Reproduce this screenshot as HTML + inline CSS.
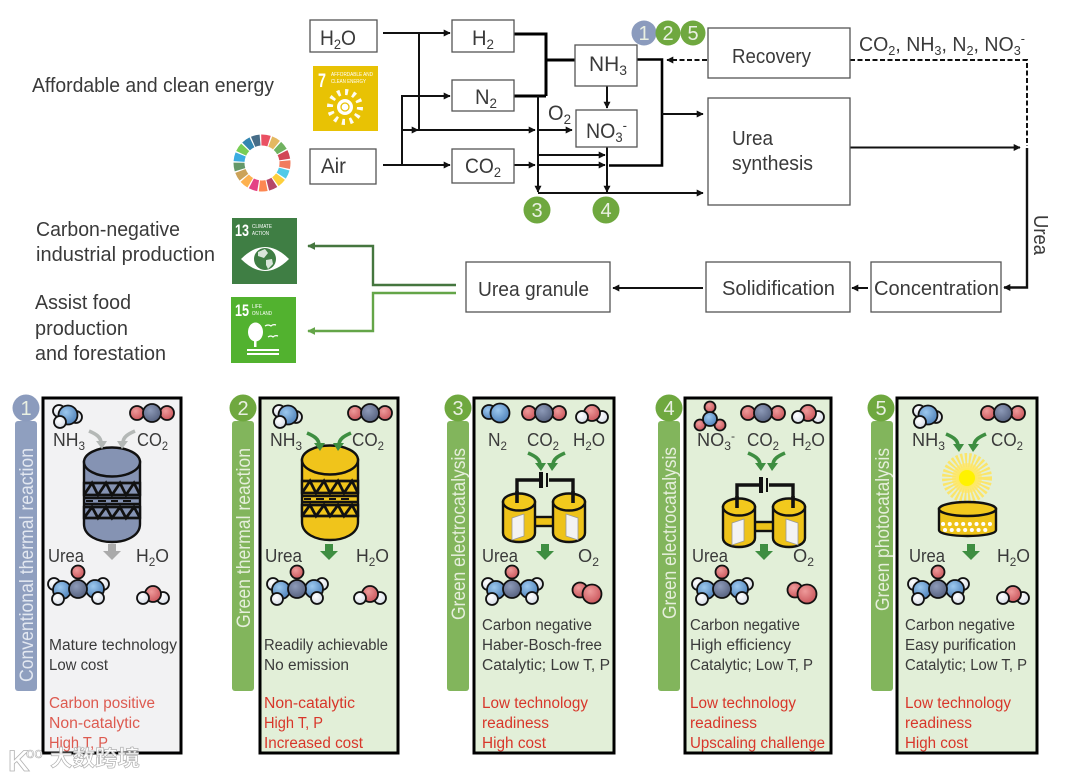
<!DOCTYPE html>
<html><head><meta charset="utf-8"><style>
html,body{margin:0;padding:0;background:#fff}
svg{display:block;filter:blur(.35px)}
text{font-family:"Liberation Sans","Noto Sans CJK SC",sans-serif;fill:#3a3a3a}
.a{font-size:20px}.b{font-size:21px}.p{font-size:18px}.s{font-size:15.5px}
.r{font-size:15.5px;fill:#d8362a}.r1{font-size:15.5px;fill:#dd5a50}
.v{font-size:19px;fill:#e6efdc}.n{font-size:20px;fill:#e9f0e2}
.l{fill:none;stroke:#111;stroke-width:2}.th{fill:none;stroke:#000;stroke-width:3}
.bx{fill:#fff;stroke:#555;stroke-width:1.3}
.pn{fill:#e2efd8;stroke:#000;stroke-width:3}
</style></head><body>
<svg width="1080" height="777" viewBox="0 0 1080 777" xmlns="http://www.w3.org/2000/svg">
<defs>
<marker id="m" viewBox="0 0 10 10" refX="9" refY="5" markerWidth="7" markerHeight="7" markerUnits="userSpaceOnUse" orient="auto"><path d="M0,0L10,5L0,10Z" fill="#111"/></marker>
<marker id="g1" viewBox="0 0 10 10" refX="9" refY="5" markerWidth="8" markerHeight="8" markerUnits="userSpaceOnUse" orient="auto"><path d="M0,0L10,5L0,10Z" fill="#45763f"/></marker>
<marker id="g2" viewBox="0 0 10 10" refX="9" refY="5" markerWidth="8" markerHeight="8" markerUnits="userSpaceOnUse" orient="auto"><path d="M0,0L10,5L0,10Z" fill="#64a548"/></marker>
<radialGradient id="rb" cx=".4" cy=".35" r=".7"><stop offset="0" stop-color="#9cc8ee"/><stop offset="1" stop-color="#4c7fb8"/></radialGradient>
<radialGradient id="rr" cx=".4" cy=".35" r=".7"><stop offset="0" stop-color="#ee9a9a"/><stop offset="1" stop-color="#c9545a"/></radialGradient>
<radialGradient id="rc" cx=".4" cy=".35" r=".7"><stop offset="0" stop-color="#8d9ab8"/><stop offset="1" stop-color="#545f7c"/></radialGradient>
<radialGradient id="rw" cx=".4" cy=".35" r=".7"><stop offset="0" stop-color="#fff"/><stop offset="1" stop-color="#d4dbe6"/></radialGradient>
<radialGradient id="sun"><stop offset="0" stop-color="#fff200"/><stop offset=".35" stop-color="#ffe94a"/><stop offset="1" stop-color="#fbe98a"/></radialGradient>
<g id="nh3" stroke="#111" stroke-width="1.8">
<circle cx="-6" cy="-5" r="6" fill="url(#rw)"/><circle cx="11" cy="1" r="6" fill="url(#rw)"/><circle cx="3" cy="-1" r="9.5" fill="url(#rb)"/><circle cx="-5" cy="6" r="6" fill="url(#rw)"/></g>
<g id="co2" stroke="#111" stroke-width="1.8">
<circle cx="-15" cy="0" r="7" fill="url(#rr)"/><circle cx="15" cy="0" r="7" fill="url(#rr)"/><circle r="9" fill="url(#rc)"/></g>
<g id="urea" stroke="#111" stroke-width="1.8">
<circle cx="0" cy="-17" r="6.5" fill="url(#rr)"/>
<circle cx="-24" cy="-5" r="6" fill="url(#rw)"/><circle cx="25" cy="-5" r="6" fill="url(#rw)"/>
<circle cx="-16" cy="1" r="9" fill="url(#rb)"/><circle cx="17" cy="0" r="9" fill="url(#rb)"/>
<circle cx="-20" cy="10" r="6" fill="url(#rw)"/><circle cx="20" cy="9" r="6" fill="url(#rw)"/>
<circle r="9" fill="url(#rc)"/></g>
<g id="h2o" stroke="#111" stroke-width="1.8">
<circle cx="10" cy="2" r="6" fill="url(#rw)"/><circle cx="0" cy="-2" r="8" fill="url(#rr)"/><circle cx="-10" cy="2" r="6" fill="url(#rw)"/></g>
<g id="o2" stroke="#111" stroke-width="1.8"><circle cx="-6" cy="-2" r="7.5" fill="url(#rr)"/><circle cx="6" cy="2" r="9.5" fill="url(#rr)"/></g>
<g id="reac" stroke="#111" stroke-width="2.4">
<path d="M-28,0V62C-28,74-14,80,0,80C14,80,28,74,28,62V0Z" fill="currentColor"/>
<ellipse rx="28" ry="14.5" fill="currentColor"/>
<rect x="-28" y="21" width="56" height="12" fill="currentColor"/>
<rect x="-28" y="45" width="56" height="11" fill="currentColor"/>
<path d="M-28,33L-20,21L-14,33L-6,21L0,33L8,21L14,33L22,21L28,33M-28,56L-20,45L-14,56L-6,45L0,56L8,45L14,56L22,45L28,56" fill="none" stroke-width="2.8"/>
<path d="M-28,21h56M-28,33h56M-28,45h56M-28,56h56M-28,36h56M-28,42h56" fill="none" stroke-width="2.6"/>
<path d="M-26,39h7M-14,39h8M-1,39h7M11,39h8" stroke-width="2"/>
</g>
<g id="al"><path d="M-13,-18C-6,-15-1,-12-1,-6" fill="none" stroke="currentColor" stroke-width="3.6"/><polygon points="-6,-8 5,-8 0,0" fill="currentColor"/></g>
<g id="ar"><path d="M13,-18C6,-15,1,-12,1,-6" fill="none" stroke="currentColor" stroke-width="3.6"/><polygon points="6,-8 -5,-8 0,0" fill="currentColor"/></g>
<polygon id="da" points="-4,-16 4,-16 4,-9 9,-9 0,0 -9,-9 -4,-9" fill="currentColor"/>
<g id="cell">
<path d="M517,502V480H541M573,502V480H549" fill="none" stroke="#111" stroke-width="3.4"/>
<path d="M541,472V488" stroke="#111" stroke-width="4"/><path d="M547,473V487" stroke="#111" stroke-width="2"/>
<rect x="534" y="517" width="20" height="9" fill="#eec319" stroke="#111" stroke-width="2.4"/>
<path d="M503,502V533C503,545,535,545,535,533V502Z" fill="#eec319" stroke="#111" stroke-width="2.4"/>
<ellipse cx="519" cy="502" rx="16" ry="8.5" fill="#f2c91d" stroke="#111" stroke-width="2.4"/>
<path d="M553,502V533C553,545,585,545,585,533V502Z" fill="#eec319" stroke="#111" stroke-width="2.4"/>
<ellipse cx="569" cy="502" rx="16" ry="8.5" fill="#f2c91d" stroke="#111" stroke-width="2.4"/>
<path d="M517,491V503M573,491V503" stroke="#111" stroke-width="3.6"/>
<polygon points="512,518 524,514 524,536 512,540" fill="#f3f3f3" stroke="#999" stroke-width=".8"/>
<polygon points="566,514 578,518 578,540 566,536" fill="#f3f3f3" stroke="#999" stroke-width=".8"/>
</g>
</defs>
<rect width="1080" height="777" fill="#fff"/>

<!-- left labels -->
<text class="a" x="32" y="92" textLength="242" lengthAdjust="spacingAndGlyphs">Affordable and clean energy</text>
<text class="a" x="36" y="236" textLength="144" lengthAdjust="spacingAndGlyphs">Carbon-negative</text>
<text class="a" x="36" y="261" textLength="179" lengthAdjust="spacingAndGlyphs">industrial production</text>
<text class="a" x="35" y="309" textLength="96" lengthAdjust="spacingAndGlyphs">Assist food</text>
<text class="a" x="35" y="335" textLength="93" lengthAdjust="spacingAndGlyphs">production</text>
<text class="a" x="35" y="360" textLength="131" lengthAdjust="spacingAndGlyphs">and forestation</text>

<!-- SDG wheel -->
<g fill="none" stroke-width="11" transform="rotate(-90 262 163)">
<circle cx="262" cy="163" r="23" pathLength="17" stroke="#e5243b" stroke-dasharray=".85 16.15" stroke-dashoffset="0" opacity=".8"/>
<circle cx="262" cy="163" r="23" pathLength="17" stroke="#dda63a" stroke-dasharray=".85 16.15" stroke-dashoffset="-1" opacity=".8"/>
<circle cx="262" cy="163" r="23" pathLength="17" stroke="#4c9f38" stroke-dasharray=".85 16.15" stroke-dashoffset="-2" opacity=".8"/>
<circle cx="262" cy="163" r="23" pathLength="17" stroke="#c5192d" stroke-dasharray=".85 16.15" stroke-dashoffset="-3" opacity=".8"/>
<circle cx="262" cy="163" r="23" pathLength="17" stroke="#ef5a35" stroke-dasharray=".85 16.15" stroke-dashoffset="-4" opacity=".8"/>
<circle cx="262" cy="163" r="23" pathLength="17" stroke="#26bde2" stroke-dasharray=".85 16.15" stroke-dashoffset="-5" opacity=".8"/>
<circle cx="262" cy="163" r="23" pathLength="17" stroke="#fcc30b" stroke-dasharray=".85 16.15" stroke-dashoffset="-6" opacity=".8"/>
<circle cx="262" cy="163" r="23" pathLength="17" stroke="#a21942" stroke-dasharray=".85 16.15" stroke-dashoffset="-7" opacity=".8"/>
<circle cx="262" cy="163" r="23" pathLength="17" stroke="#fd6925" stroke-dasharray=".85 16.15" stroke-dashoffset="-8" opacity=".8"/>
<circle cx="262" cy="163" r="23" pathLength="17" stroke="#dd1367" stroke-dasharray=".85 16.15" stroke-dashoffset="-9" opacity=".8"/>
<circle cx="262" cy="163" r="23" pathLength="17" stroke="#fd9d24" stroke-dasharray=".85 16.15" stroke-dashoffset="-10" opacity=".8"/>
<circle cx="262" cy="163" r="23" pathLength="17" stroke="#bf8b2e" stroke-dasharray=".85 16.15" stroke-dashoffset="-11" opacity=".8"/>
<circle cx="262" cy="163" r="23" pathLength="17" stroke="#3f7e44" stroke-dasharray=".85 16.15" stroke-dashoffset="-12" opacity=".8"/>
<circle cx="262" cy="163" r="23" pathLength="17" stroke="#0a97d9" stroke-dasharray=".85 16.15" stroke-dashoffset="-13" opacity=".8"/>
<circle cx="262" cy="163" r="23" pathLength="17" stroke="#56c02b" stroke-dasharray=".85 16.15" stroke-dashoffset="-14" opacity=".8"/>
<circle cx="262" cy="163" r="23" pathLength="17" stroke="#00689d" stroke-dasharray=".85 16.15" stroke-dashoffset="-15" opacity=".8"/>
<circle cx="262" cy="163" r="23" pathLength="17" stroke="#19486a" stroke-dasharray=".85 16.15" stroke-dashoffset="-16" opacity=".8"/>
</g>

<!-- SDG 7 -->
<rect x="313" y="66" width="65" height="65" fill="#e8c204"/>
<text x="318" y="87" font-size="19" font-weight="bold" style="fill:#fff" textLength="8" lengthAdjust="spacingAndGlyphs">7</text>
<text x="331" y="76" font-size="5.5" style="fill:#fff" textLength="42" lengthAdjust="spacingAndGlyphs">AFFORDABLE AND</text>
<text x="331" y="83" font-size="5.5" style="fill:#fff" textLength="35" lengthAdjust="spacingAndGlyphs">CLEAN ENERGY</text>
<circle cx="345" cy="107" r="15" fill="none" stroke="#fff" stroke-width="6" stroke-dasharray="3 4.85" opacity=".95"/>
<circle cx="345" cy="107" r="8" fill="#fff"/><circle cx="345" cy="107" r="4" fill="none" stroke="#e8c204" stroke-width="1.3"/>

<!-- SDG 13 -->
<rect x="232" y="218" width="65" height="66" fill="#3f7e44"/>
<text x="235" y="236" font-size="17" font-weight="bold" style="fill:#fff" textLength="14" lengthAdjust="spacingAndGlyphs">13</text>
<text x="252" y="228" font-size="5" style="fill:#fff" textLength="20" lengthAdjust="spacingAndGlyphs">CLIMATE</text>
<text x="252" y="235" font-size="5" style="fill:#fff" textLength="17" lengthAdjust="spacingAndGlyphs">ACTION</text>
<path d="M241,259Q265,235,289,259Q265,283,241,259Z" fill="#fff"/>
<circle cx="265" cy="259" r="11" fill="#3f7e44"/>
<path d="M258,252l7-3l3,4l-4,5l-6,-2zM266,260l6,-1l1,5l-5,5l-2,-4z" fill="#fff" opacity=".8"/>

<!-- SDG 15 -->
<rect x="231" y="297" width="65" height="66" fill="#52b22f"/>
<text x="235" y="316" font-size="17" font-weight="bold" style="fill:#fff" textLength="14" lengthAdjust="spacingAndGlyphs">15</text>
<text x="252" y="308" font-size="5.5" style="fill:#fff" textLength="10" lengthAdjust="spacingAndGlyphs">LIFE</text>
<text x="252" y="315" font-size="5.5" style="fill:#fff" textLength="20" lengthAdjust="spacingAndGlyphs">ON LAND</text>
<ellipse cx="255.500" cy="332" rx="7.500" ry="9.500" fill="#fff"/><rect x="254" y="338" width="2.500" height="9" fill="#fff"/>
<rect x="247" y="349" width="32" height="2" fill="#fff"/><rect x="247" y="353" width="32" height="2" fill="#fff"/>
<path d="M265,326q3,-2,6,0q2,-2,5,-1M268,337q3,-2,5,0q2,-2,5,-1" fill="none" stroke="#fff" stroke-width="1.2"/>

<!-- flow lines -->
<path class="l" d="M383,33H450" marker-end="url(#m)"/>
<path class="l" d="M419,33V130H535" marker-end="url(#m)"/>
<path class="l" d="M539,130H572" marker-end="url(#m)"/>
<path class="l" d="M383,165H450" marker-end="url(#m)"/>
<path class="l" d="M402,165V96H450" marker-end="url(#m)"/>
<path class="l" d="M402,130H418" marker-end="url(#m)"/>
<path class="th" d="M514,34H546V96M514,96H546" />
<path class="th" d="M546,60H575"/>
<path class="l" d="M538,96V192" marker-end="url(#m)"/>
<path class="l" d="M514,165H535" marker-end="url(#m)"/>
<path class="l" d="M539,165H605" marker-end="url(#m)"/>
<path class="l" d="M539,155H605" marker-end="url(#m)"/>
<path class="l" d="M607,147V192" marker-end="url(#m)"/>
<path class="l" d="M607,86V108" marker-end="url(#m)"/>
<path class="l" d="M538,193H703" marker-end="url(#m)"/>
<path class="th" d="M637,59.5H662V165.5H609" style="stroke-width:2.6"/>
<path class="l" d="M662,114H703" marker-end="url(#m)"/>
<path class="l" d="M707,60H667" stroke-dasharray="5 2.5" marker-end="url(#m)"/>
<path class="l" d="M850,60H1027V146" stroke-dasharray="5 2.5"/>
<path class="l" d="M850,147.500H1020" marker-end="url(#m)"/>
<path class="l" d="M1027,148V287.500H1004" style="stroke-width:2.4" marker-end="url(#m)"/>
<path class="l" d="M868,288H852" marker-end="url(#m)"/>
<path class="l" d="M703,288H613" marker-end="url(#m)"/>
<path d="M456,285H373V246H308" fill="none" stroke="#45763f" stroke-width="2.4" marker-end="url(#g1)"/>
<path d="M456,293H373V331H308" fill="none" stroke="#64a548" stroke-width="2.4" marker-end="url(#g2)"/>

<!-- boxes -->
<rect class="bx" x="310" y="20" width="67" height="32"/>
<rect class="bx" x="452" y="20" width="62" height="32"/>
<rect class="bx" x="452" y="80" width="62" height="31"/>
<rect class="bx" x="310" y="149" width="66" height="35"/>
<rect class="bx" x="452" y="149" width="62" height="34"/>
<rect class="bx" x="575" y="45" width="62" height="41"/>
<rect class="bx" x="576" y="110" width="61" height="37"/>
<rect class="bx" x="708" y="28" width="142" height="50"/>
<rect class="bx" x="708" y="98" width="142" height="107"/>
<rect class="bx" x="706" y="262" width="144" height="50"/>
<rect class="bx" x="871" y="262" width="130" height="50"/>
<rect class="bx" x="466" y="262" width="144" height="50"/>

<text class="b" x="320" y="45" textLength="36" lengthAdjust="spacingAndGlyphs">H<tspan font-size="14" dy="4">2</tspan><tspan dy="-4">O</tspan></text>
<text class="b" x="472" y="45" textLength="22" lengthAdjust="spacingAndGlyphs">H<tspan font-size="14" dy="4">2</tspan></text>
<text class="b" x="475" y="104" textLength="22" lengthAdjust="spacingAndGlyphs">N<tspan font-size="14" dy="4">2</tspan></text>
<text class="b" x="321" y="173" textLength="25" lengthAdjust="spacingAndGlyphs">Air</text>
<text class="b" x="465" y="173" textLength="36" lengthAdjust="spacingAndGlyphs">CO<tspan font-size="14" dy="4">2</tspan></text>
<text class="b" x="589" y="71" textLength="38" lengthAdjust="spacingAndGlyphs">NH<tspan font-size="14" dy="4">3</tspan></text>
<text class="b" x="586" y="138" textLength="41" lengthAdjust="spacingAndGlyphs">NO<tspan font-size="14" dy="4">3</tspan><tspan font-size="14" dy="-12">-</tspan></text>
<text class="b" x="548" y="120" textLength="23" lengthAdjust="spacingAndGlyphs">O<tspan font-size="14" dy="4">2</tspan></text>
<text class="a" x="732" y="63" textLength="79" lengthAdjust="spacingAndGlyphs">Recovery</text>
<text class="a" x="732" y="145" textLength="41" lengthAdjust="spacingAndGlyphs">Urea</text>
<text class="a" x="732" y="170" textLength="81" lengthAdjust="spacingAndGlyphs">synthesis</text>
<text class="a" x="859" y="51" textLength="166" lengthAdjust="spacingAndGlyphs">CO<tspan font-size="13" dy="4">2</tspan><tspan dy="-4">, NH</tspan><tspan font-size="13" dy="4">3</tspan><tspan dy="-4">, N</tspan><tspan font-size="13" dy="4">2</tspan><tspan dy="-4">, NO</tspan><tspan font-size="13" dy="4">3</tspan><tspan font-size="13" dy="-12">-</tspan></text>
<text class="a" transform="translate(1034,215) rotate(90)" textLength="40" lengthAdjust="spacingAndGlyphs">Urea</text>
<text class="a" x="478" y="296" textLength="111" lengthAdjust="spacingAndGlyphs">Urea granule</text>
<text class="a" x="722" y="295" textLength="113" lengthAdjust="spacingAndGlyphs">Solidification</text>
<text class="a" x="874" y="295" textLength="125" lengthAdjust="spacingAndGlyphs">Concentration</text>

<!-- badges -->
<circle cx="644" cy="33" r="12.500" fill="#8b9bbd"/><circle cx="668" cy="33" r="12.500" fill="#6fa83f"/><circle cx="693" cy="33" r="12.500" fill="#6fa83f"/>
<text class="n" x="644" y="40" text-anchor="middle">1</text><text class="n" x="668" y="40" text-anchor="middle">2</text><text class="n" x="693" y="40" text-anchor="middle">5</text>
<circle cx="537" cy="210" r="13.500" fill="#6fa83f"/><circle cx="606" cy="210" r="13.500" fill="#6fa83f"/>
<text class="n" x="537" y="217" text-anchor="middle">3</text><text class="n" x="606" y="217" text-anchor="middle">4</text>

<!-- side bars -->
<rect x="15" y="421" width="22" height="270" rx="3" fill="#8f9fbf"/><circle cx="26" cy="408" r="13.500" fill="#8b9bbd"/>
<rect x="232" y="421" width="22" height="270" rx="3" fill="#82b55c"/><circle cx="243" cy="408" r="13.500" fill="#6fa83f"/>
<rect x="447" y="421" width="22" height="270" rx="3" fill="#82b55c"/><circle cx="458" cy="408" r="13.500" fill="#6fa83f"/>
<rect x="658" y="421" width="22" height="270" rx="3" fill="#82b55c"/><circle cx="669" cy="408" r="13.500" fill="#6fa83f"/>
<rect x="871" y="421" width="22" height="270" rx="3" fill="#82b55c"/><circle cx="881" cy="408" r="13.500" fill="#6fa83f"/>
<text class="n" x="26" y="415" text-anchor="middle">1</text><text class="n" x="243" y="415" text-anchor="middle">2</text><text class="n" x="458" y="415" text-anchor="middle">3</text><text class="n" x="669" y="415" text-anchor="middle">4</text><text class="n" x="881" y="415" text-anchor="middle">5</text>
<text class="v" transform="translate(33,682) rotate(-90)" textLength="234" lengthAdjust="spacingAndGlyphs" style="fill:#e3e8f1">Conventional thermal reaction</text>
<text class="v" transform="translate(250,628) rotate(-90)" textLength="180" lengthAdjust="spacingAndGlyphs">Green thermal reaction</text>
<text class="v" transform="translate(465,620) rotate(-90)" textLength="172" lengthAdjust="spacingAndGlyphs">Green electrocatalysis</text>
<text class="v" transform="translate(676,619) rotate(-90)" textLength="172" lengthAdjust="spacingAndGlyphs">Green electrocatalysis</text>
<text class="v" transform="translate(889,611) rotate(-90)" textLength="163" lengthAdjust="spacingAndGlyphs">Green photocatalysis</text>

<!-- panels -->
<rect class="pn" x="43" y="398" width="138" height="355" style="fill:#f2f2f3"/>
<rect class="pn" x="260" y="398" width="138" height="355"/>
<rect class="pn" x="474" y="398" width="140" height="355"/>
<rect class="pn" x="685" y="398" width="146" height="355"/>
<rect class="pn" x="897" y="398" width="140" height="355"/>

<!-- Panel 1 -->
<use href="#nh3" x="65" y="416"/><use href="#co2" x="152" y="413"/>
<use href="#reac" x="112" y="462" color="#8593b3"/>
<use href="#al" x="102" y="449" color="#b4b8b6"/><use href="#ar" x="122" y="449" color="#b4b8b6"/>
<use href="#da" x="112" y="560" color="#aaa"/>
<use href="#urea" x="78" y="589"/><use href="#h2o" x="153" y="596"/>
<text class="p" x="53" y="446" textLength="32" lengthAdjust="spacingAndGlyphs">NH<tspan font-size="12" dy="4">3</tspan></text>
<text class="p" x="137" y="446" textLength="31" lengthAdjust="spacingAndGlyphs">CO<tspan font-size="12" dy="4">2</tspan></text>
<text class="p" x="48" y="562" textLength="36" lengthAdjust="spacingAndGlyphs">Urea</text>
<text class="p" x="136" y="562" textLength="33" lengthAdjust="spacingAndGlyphs">H<tspan font-size="12" dy="4">2</tspan><tspan dy="-4">O</tspan></text>
<text class="s" x="49" y="650" textLength="128" lengthAdjust="spacingAndGlyphs">Mature technology</text>
<text class="s" x="49" y="670" textLength="59" lengthAdjust="spacingAndGlyphs">Low cost</text>
<text class="r1" x="49" y="708" textLength="106" lengthAdjust="spacingAndGlyphs">Carbon positive</text>
<text class="r1" x="49" y="728" textLength="91" lengthAdjust="spacingAndGlyphs">Non-catalytic</text>
<text class="r1" x="49" y="748" textLength="59" lengthAdjust="spacingAndGlyphs">High T, P</text>

<!-- Panel 2 -->
<use href="#nh3" x="285" y="416"/><use href="#co2" x="370" y="413"/>
<use href="#reac" x="330" y="460" color="#f0c41b"/>
<use href="#al" x="320" y="451" color="#3e8e41"/><use href="#ar" x="338" y="451" color="#3e8e41"/>
<use href="#da" x="329" y="560" color="#3e8e41"/>
<use href="#urea" x="297" y="589"/><use href="#h2o" x="370" y="596"/>
<text class="p" x="270" y="446" textLength="32" lengthAdjust="spacingAndGlyphs">NH<tspan font-size="12" dy="4">3</tspan></text>
<text class="p" x="352" y="446" textLength="32" lengthAdjust="spacingAndGlyphs">CO<tspan font-size="12" dy="4">2</tspan></text>
<text class="p" x="265" y="562" textLength="37" lengthAdjust="spacingAndGlyphs">Urea</text>
<text class="p" x="356" y="562" textLength="33" lengthAdjust="spacingAndGlyphs">H<tspan font-size="12" dy="4">2</tspan><tspan dy="-4">O</tspan></text>
<text class="s" x="264" y="650" textLength="124" lengthAdjust="spacingAndGlyphs">Readily achievable</text>
<text class="s" x="264" y="670" textLength="85" lengthAdjust="spacingAndGlyphs">No emission</text>
<text class="r" x="264" y="708" textLength="91" lengthAdjust="spacingAndGlyphs">Non-catalytic</text>
<text class="r" x="264" y="728" textLength="59" lengthAdjust="spacingAndGlyphs">High T, P</text>
<text class="r" x="264" y="748" textLength="99" lengthAdjust="spacingAndGlyphs">Increased cost</text>

<!-- Panel 3 -->
<g stroke="#111" stroke-width="1.8"><circle cx="489" cy="412" r="7" fill="url(#rb)"/><circle cx="500" cy="413" r="9.500" fill="url(#rb)"/></g>
<use href="#co2" x="544" y="413"/><use href="#h2o" x="592" y="415"/>
<text class="p" x="488" y="446" textLength="19" lengthAdjust="spacingAndGlyphs">N<tspan font-size="12" dy="4">2</tspan></text>
<text class="p" x="527" y="446" textLength="32" lengthAdjust="spacingAndGlyphs">CO<tspan font-size="12" dy="4">2</tspan></text>
<text class="p" x="573" y="446" textLength="32" lengthAdjust="spacingAndGlyphs">H<tspan font-size="12" dy="4">2</tspan><tspan dy="-4">O</tspan></text>
<use href="#al" x="541" y="471" color="#3e8e41"/><use href="#ar" x="552" y="471" color="#3e8e41"/>
<use href="#cell"/>
<use href="#da" x="545" y="560" color="#3e8e41"/>
<use href="#urea" x="512" y="589"/><use href="#o2" x="586" y="592"/>
<text class="p" x="482" y="562" textLength="36" lengthAdjust="spacingAndGlyphs">Urea</text>
<text class="p" x="578" y="562" textLength="21" lengthAdjust="spacingAndGlyphs">O<tspan font-size="12" dy="4">2</tspan></text>
<text class="s" x="482" y="630" textLength="110" lengthAdjust="spacingAndGlyphs">Carbon negative</text>
<text class="s" x="482" y="650" textLength="120" lengthAdjust="spacingAndGlyphs">Haber-Bosch-free</text>
<text class="s" x="482" y="670" textLength="128" lengthAdjust="spacingAndGlyphs">Catalytic; Low T, P</text>
<text class="r" x="482" y="708" textLength="106" lengthAdjust="spacingAndGlyphs">Low technology</text>
<text class="r" x="482" y="728" textLength="67" lengthAdjust="spacingAndGlyphs">readiness</text>
<text class="r" x="482" y="748" textLength="64" lengthAdjust="spacingAndGlyphs">High cost</text>

<!-- Panel 4 -->
<g stroke="#111" stroke-width="1.8">
<circle cx="710" cy="407" r="5.500" fill="url(#rr)"/><circle cx="700" cy="425" r="5.500" fill="url(#rr)"/><circle cx="720" cy="425" r="5.500" fill="url(#rr)"/><circle cx="710" cy="419" r="7" fill="url(#rb)"/></g>
<use href="#co2" x="763" y="413"/><use href="#h2o" x="808" y="415"/>
<text class="p" x="697" y="446" textLength="38" lengthAdjust="spacingAndGlyphs">NO<tspan font-size="12" dy="4">3</tspan><tspan font-size="12" dy="-10">-</tspan></text>
<text class="p" x="747" y="446" textLength="32" lengthAdjust="spacingAndGlyphs">CO<tspan font-size="12" dy="4">2</tspan></text>
<text class="p" x="792" y="446" textLength="33" lengthAdjust="spacingAndGlyphs">H<tspan font-size="12" dy="4">2</tspan><tspan dy="-4">O</tspan></text>
<use href="#al" x="761" y="471" color="#3e8e41"/><use href="#ar" x="772" y="471" color="#3e8e41"/>
<use href="#cell" transform="translate(220,5)"/>
<use href="#da" x="764" y="560" color="#3e8e41"/>
<use href="#urea" x="722" y="589"/><use href="#o2" x="801" y="592"/>
<text class="p" x="692" y="562" textLength="36" lengthAdjust="spacingAndGlyphs">Urea</text>
<text class="p" x="793" y="562" textLength="21" lengthAdjust="spacingAndGlyphs">O<tspan font-size="12" dy="4">2</tspan></text>
<text class="s" x="690" y="630" textLength="110" lengthAdjust="spacingAndGlyphs">Carbon negative</text>
<text class="s" x="690" y="650" textLength="101" lengthAdjust="spacingAndGlyphs">High efficiency</text>
<text class="s" x="690" y="670" textLength="123" lengthAdjust="spacingAndGlyphs">Catalytic; Low T, P</text>
<text class="r" x="690" y="708" textLength="106" lengthAdjust="spacingAndGlyphs">Low technology</text>
<text class="r" x="690" y="728" textLength="67" lengthAdjust="spacingAndGlyphs">readiness</text>
<text class="r" x="690" y="748" textLength="135" lengthAdjust="spacingAndGlyphs">Upscaling challenge</text>

<!-- Panel 5 -->
<use href="#nh3" x="925" y="416"/><use href="#co2" x="1003" y="413"/>
<text class="p" x="912" y="446" textLength="33" lengthAdjust="spacingAndGlyphs">NH<tspan font-size="12" dy="4">3</tspan></text>
<text class="p" x="991" y="446" textLength="32" lengthAdjust="spacingAndGlyphs">CO<tspan font-size="12" dy="4">2</tspan></text>
<use href="#al" x="959" y="452" color="#3e8e41"/><use href="#ar" x="973" y="452" color="#3e8e41"/>
<circle cx="967" cy="478" r="15" fill="url(#sun)"/>
<circle cx="967" cy="478" r="18" fill="none" stroke="#fbe56a" stroke-width="14" stroke-dasharray="2 1.600"/>
<circle cx="967" cy="478" r="8" fill="#fff200"/>
<path d="M939,509V530C939,538,996,538,996,530V509Z" fill="#eec319" stroke="#111" stroke-width="2.400"/>
<ellipse cx="967.500" cy="509" rx="28.500" ry="7" fill="#f2c91d" stroke="#111" stroke-width="2.400"/>
<path d="M943,524h49M945,530h45" fill="none" stroke="#fff" stroke-width="4" stroke-linecap="round" stroke-dasharray="0.100 6.600"/>
<use href="#da" x="971" y="560" color="#3e8e41"/>
<use href="#urea" x="938" y="589"/><use href="#h2o" x="1013" y="596"/>
<text class="p" x="909" y="562" textLength="36" lengthAdjust="spacingAndGlyphs">Urea</text>
<text class="p" x="997" y="562" textLength="33" lengthAdjust="spacingAndGlyphs">H<tspan font-size="12" dy="4">2</tspan><tspan dy="-4">O</tspan></text>
<text class="s" x="905" y="630" textLength="110" lengthAdjust="spacingAndGlyphs">Carbon negative</text>
<text class="s" x="905" y="650" textLength="111" lengthAdjust="spacingAndGlyphs">Easy purification</text>
<text class="s" x="905" y="670" textLength="122" lengthAdjust="spacingAndGlyphs">Catalytic; Low T, P</text>
<text class="r" x="905" y="708" textLength="106" lengthAdjust="spacingAndGlyphs">Low technology</text>
<text class="r" x="905" y="728" textLength="67" lengthAdjust="spacingAndGlyphs">readiness</text>
<text class="r" x="905" y="748" textLength="63" lengthAdjust="spacingAndGlyphs">High cost</text>

<!-- watermark -->
<g opacity=".9">
<text x="8" y="771" font-size="30" font-weight="bold" style="fill:#fff;stroke:#aaa;stroke-width:.8">K</text>
<text x="26" y="758" font-size="15" style="fill:#fff;stroke:#aaa;stroke-width:.6">oo</text>
<text x="50" y="766" font-size="22" font-weight="bold" style="fill:#fff;stroke:#aaa;stroke-width:.7" textLength="90" lengthAdjust="spacingAndGlyphs">大数跨境</text>
</g>
</svg>
</body></html>
